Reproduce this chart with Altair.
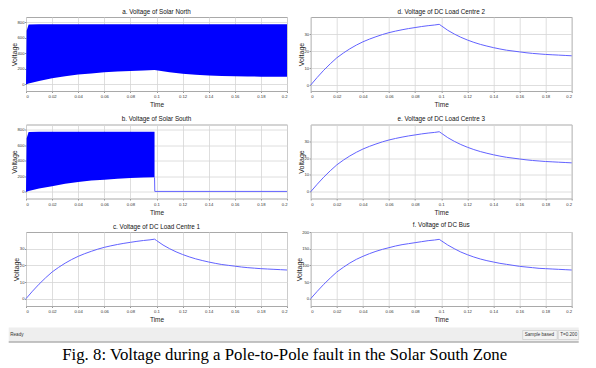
import altair as alt
import pandas as pd

# ---------------- data ----------------
time_s = [0.0, 0.005, 0.01, 0.015, 0.02, 0.025, 0.03, 0.035, 0.04, 0.045, 0.05,
          0.055, 0.06, 0.065, 0.07, 0.075, 0.08, 0.085, 0.09, 0.095, 0.0985,
          0.1, 0.105, 0.11, 0.115, 0.12, 0.125, 0.13, 0.135, 0.14, 0.145, 0.15,
          0.155, 0.16, 0.165, 0.17, 0.175, 0.18, 0.185, 0.19, 0.195, 0.2]

load_centre_1 = [0, 4.5, 8.7, 12.5, 16.0, 18.8, 21.3, 23.5, 25.4, 27.0, 28.4,
                 29.7, 30.8, 31.7, 32.5, 33.2, 33.8, 34.4, 34.9, 35.3, 35.7,
                 34.9, 32.2, 30.0, 28.1, 26.5, 25.1, 23.9, 22.9, 22.0, 21.2, 20.5,
                 20.0, 19.5, 19.0, 18.6, 18.3, 18.0, 17.8, 17.6, 17.4, 17.2]
load_centre_2 = [0, 4.5, 8.7, 12.5, 16.0, 18.8, 21.3, 23.5, 25.4, 27.0, 28.4,
                 29.7, 30.8, 31.7, 32.5, 33.2, 33.8, 34.4, 34.9, 35.3, 35.7,
                 34.9, 32.2, 30.0, 28.1, 26.5, 25.1, 23.9, 22.9, 22.0, 21.2, 20.5,
                 20.0, 19.5, 19.0, 18.6, 18.3, 18.0, 17.8, 17.6, 17.4, 17.2]
load_centre_3 = [0, 4.5, 8.7, 12.5, 16.0, 18.8, 21.3, 23.5, 25.4, 27.0, 28.4,
                 29.7, 30.8, 31.7, 32.5, 33.2, 33.8, 34.4, 34.9, 35.3, 35.7,
                 34.9, 32.2, 30.0, 28.1, 26.5, 25.1, 23.9, 22.9, 22.0, 21.2, 20.5,
                 20.0, 19.5, 19.0, 18.6, 18.3, 18.0, 17.8, 17.6, 17.4, 17.2]
dc_bus = [0, 22, 43, 62, 80, 94, 107, 118, 127, 135, 142, 148, 153, 158, 162,
          165, 168, 171, 174, 176, 178, 174, 161, 150, 140, 132, 125, 119, 114,
          110, 106, 103, 100, 97, 95, 93, 91, 90, 89, 88, 87, 86]

# switching PV voltage, drawn as the band between its envelopes
north_t = [0.0, 0.0005, 0.002, 0.01, 0.02, 0.03, 0.04, 0.05, 0.06, 0.07, 0.08,
           0.09, 0.0985, 0.11, 0.12, 0.13, 0.14, 0.15, 0.16, 0.17, 0.18, 0.19, 0.2]
north_low = [0, 3, 10, 43, 78, 105, 126, 140, 155, 165, 172, 178, 183, 155, 138,
             124, 114, 108, 104, 101, 99, 98, 97]
north_high = [0, 690, 770, 772, 772, 772, 772, 772, 772, 772, 772, 772, 772, 772,
              772, 772, 772, 772, 772, 772, 772, 772, 772]

south_t = [0.0, 0.0005, 0.002, 0.01, 0.02, 0.03, 0.04, 0.05, 0.06, 0.07, 0.08,
           0.09, 0.0985]
south_low = [0, 3, 10, 42, 72, 104, 128, 145, 157, 168, 177, 183, 187]
south_high = [0, 690, 770, 772, 772, 772, 772, 772, 772, 772, 772, 772, 772]
south_after_t = [0.0985, 0.0987, 0.2]
south_after_v = [187, 6, 6]

x_ticks = [0, 0.02, 0.04, 0.06, 0.08, 0.1, 0.12, 0.14, 0.16, 0.18, 0.2]
pv_ticks = [0, 200, 400, 600, 800]
load_ticks = [0, 10, 20, 30]
bus_ticks = [0, 50, 100, 150, 200]

titles = ["a. Voltage of Solar North", "b. Voltage of Solar South",
          "c. Voltage of DC Load Centre 1", "d. Voltage of DC Load Centre 2",
          "e. Voltage of DC Load Centre 3", "f. Voltage of DC Bus"]
status_texts = ["Ready", "Sample based", "T=0.200"]
caption = "Fig. 8: Voltage during a Pole-to-Pole fault in the Solar South Zone"

# ---------------- styling ----------------
SANS = "Liberation Sans, Arial, sans-serif"
LINE = "#6262ff"
FILL = "#0000ff"
W, H = 261, 74


def xenc():
    return alt.X("t:Q", scale=alt.Scale(domain=[0, 0.2], nice=False, zero=False),
                 axis=alt.Axis(values=x_ticks, format="~g", title="Time"))


def yenc(field, dom, ticks, tx):
    return alt.Y(field, scale=alt.Scale(domain=dom, nice=False, zero=False),
                 axis=alt.Axis(values=ticks, title="Voltage", titleX=tx))


def ptitle(text):
    return alt.TitleParams(text=text, font=SANS, fontSize=6.3, fontWeight="normal",
                           color="#111", offset=2)


def line_panel(vals, title, dom, ticks, tx):
    df = pd.DataFrame({"t": time_s, "v": vals})
    return (alt.Chart(df).mark_line(color=LINE, strokeWidth=1)
            .encode(x=xenc(), y=yenc("v:Q", dom, ticks, tx))
            .properties(width=W, height=H, title=ptitle(title)))


def band_panel(t, low, high, title, dom, tx, after=None):
    df = pd.DataFrame({"t": t, "lo": low, "hi": high})
    band = alt.Chart(df).mark_area(color=FILL, opacity=1, interpolate="linear").encode(
        x=xenc(), y=yenc("lo:Q", dom, pv_ticks, tx), y2="hi:Q")
    layers = [band]
    if after is not None:
        adf = pd.DataFrame({"t": after[0], "v": after[1]})
        layers.append(alt.Chart(adf).mark_line(color=LINE, strokeWidth=1).encode(
            x=xenc(), y=yenc("v:Q", dom, pv_ticks, tx)))
    return alt.layer(*layers).properties(width=W, height=H, title=ptitle(title))


pa = band_panel(north_t, north_low, north_high, titles[0], [-85, 865], -9)
pb = band_panel(south_t, south_low, south_high, titles[1], [-85, 865], -9,
                after=(south_after_t, south_after_v))
pc = line_panel(load_centre_1, titles[2], [-4.4, 40], load_ticks, -6.5)
pd_ = line_panel(load_centre_2, titles[3], [-3.5, 40], load_ticks, -5.8)
pe = line_panel(load_centre_3, titles[4], [-4, 40], load_ticks, -5.8)
pf = line_panel(dc_bus, titles[5], [-22, 200], bus_ticks, -8)

# flush bounds: gaps are measured between the plot frames themselves
grid = alt.concat(pa, pd_, pb, pe, pc, pf, columns=2, bounds="flush",
                  spacing={"row": 33.5, "column": 23.7})

# status bar of the scope window (x relative to the left plot frame)
L, R = -17.3, 552.7
SW = 545.7
sdf = pd.DataFrame({"s": status_texts})


def only(name):
    return alt.Chart(sdf).transform_filter(alt.datum.s == name)


bar = only("Ready").mark_rect(color="#eeeeee").encode(
    x=alt.value(L), x2=alt.value(R), y=alt.value(0), y2=alt.value(14))
box1 = only("Sample based").mark_rect(fill="#f3f3f3", stroke="#c4c4c4",
                                      strokeWidth=0.6).encode(
    x=alt.value(496.7), x2=alt.value(531.2), y=alt.value(3), y2=alt.value(12))
box2 = only("T=0.200").mark_rect(fill="#f3f3f3", stroke="#c4c4c4",
                                 strokeWidth=0.6).encode(
    x=alt.value(532.2), x2=alt.value(R), y=alt.value(3), y2=alt.value(12))
txt_kw = dict(font=SANS, fontSize=4.6, color="#333", align="left", baseline="middle")
t1 = only("Ready").mark_text(**txt_kw).encode(x=alt.value(L + 1.5), y=alt.value(7.5), text="s:N")
t2 = only("Sample based").mark_text(**txt_kw).encode(x=alt.value(498.7), y=alt.value(7.5), text="s:N")
t3 = only("T=0.200").mark_text(**txt_kw).encode(x=alt.value(534.2), y=alt.value(7.5), text="s:N")
edge = only("Ready").mark_rule(color="#8a8a8a", strokeWidth=1).encode(
    x=alt.value(L), x2=alt.value(R), y=alt.value(14.5))
status = alt.layer(bar, box1, box2, t1, t2, t3, edge).properties(
    width=SW, height=15, view=alt.ViewBackground(strokeOpacity=0))

chart = alt.vconcat(grid, status, spacing=3.5).properties(
    padding=0,
    title=alt.TitleParams(text=caption, orient="bottom", anchor="middle",
                          font="Liberation Serif, Times New Roman, serif",
                          fontSize=16.8, fontWeight="normal", color="black",
                          offset=4, dx=-9),
).configure_view(stroke="#a9a9a9", strokeWidth=1).configure_axis(
    labelFont=SANS, labelFontSize=4.2, labelColor="#333",
    titleFont=SANS, titleFontWeight="normal", titleColor="#222",
    tickSize=1.5, tickColor="#999", domain=False,
    gridColor="#d6d6d6", gridWidth=0.8,
).configure_axisX(titleFontSize=6.5, titleFontWeight="normal",
                  labelPadding=2, titlePadding=3).configure_axisY(
    titleFontSize=7, titleFontWeight="normal", labelPadding=0.5)

chart.save("out.html", embed_options={"renderer": "svg", "actions": False})
